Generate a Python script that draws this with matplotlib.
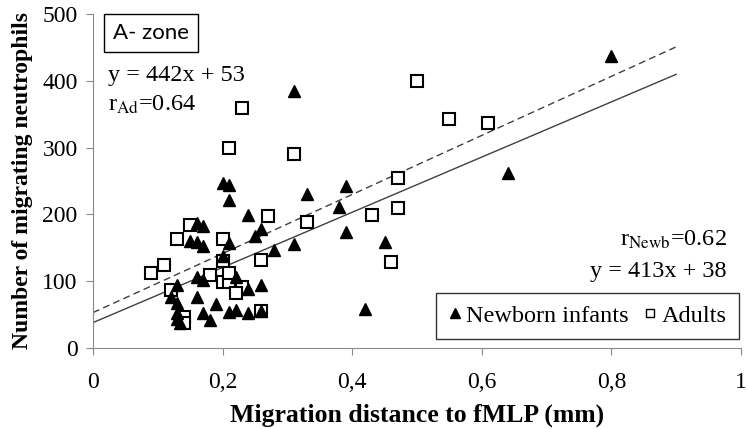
import numpy as np
import matplotlib
matplotlib.use("Agg")
import matplotlib.pyplot as plt
from matplotlib.lines import Line2D

plt.rcParams["font.family"] = "Liberation Serif"
plt.rcParams["mathtext.fontset"] = "stix"

# newborn infants (triangles)
newb_x = [0.80, 0.64, 0.31, 0.39, 0.33, 0.38, 0.24, 0.26, 0.39, 0.25, 0.45, 0.31, 0.28,
          0.26, 0.24, 0.42, 0.24, 0.26, 0.20, 0.21, 0.21, 0.16, 0.17, 0.15, 0.16, 0.17,
          0.21, 0.20, 0.16, 0.17, 0.22, 0.13, 0.12, 0.13, 0.16, 0.19, 0.17, 0.18, 0.21,
          0.22, 0.13, 0.13, 0.135]
newb_y = [437, 262, 384, 243, 230, 211, 199, 178, 173, 167, 158, 155, 146,
          95, 88, 59, 53, 55, 247, 244, 222, 187, 182, 160, 159, 152,
          157, 137, 107, 102, 107, 94, 77, 67, 77, 66, 53, 42, 54,
          57, 52, 44, 37]

# adults (open squares)
ad_x = [0.50, 0.55, 0.61, 0.23, 0.21, 0.31, 0.47, 0.47, 0.43, 0.27, 0.33, 0.26, 0.46,
        0.23, 0.26, 0.15, 0.13, 0.20, 0.11, 0.09, 0.20, 0.18, 0.20, 0.21, 0.21, 0.22,
        0.12, 0.14, 0.14]
ad_y = [400, 343, 337, 359, 300, 291, 255, 210, 199, 198, 189, 131, 128,
        92, 55, 184, 163, 163, 124, 113, 130, 109, 99, 99, 113, 82,
        87, 47, 37]

# regression lines: slope, intercept
fit_newb = [413, 38]
fit_ad = [442, 53]
fit_range = [0, 0.9]

x_ticks = [0, 0.2, 0.4, 0.6, 0.8, 1]
x_tick_labels = ["0", "0,2", "0,4", "0,6", "0,8", "1"]
y_ticks = [0, 100, 200, 300, 400, 500]

fig = plt.figure(figsize=(7.48, 4.29), dpi=100)
ax = fig.add_axes([0.1243, 0.1888, 0.8663, 0.7786])

xs = np.array(fit_range)
ax.plot(xs, fit_newb[0] * xs + fit_newb[1], color="#404040", lw=1.0, zorder=1)
ax.plot(xs, fit_ad[0] * xs + fit_ad[1], color="#404040", lw=1.0, ls=(0, (5, 3)), zorder=1)

ax.plot(newb_x, newb_y, ls="none", marker="^", ms=9, color="black", zorder=3)
ax.plot(ad_x, ad_y, ls="none", marker="s", ms=8, mfc="white", mec="black", mew=1.5, zorder=2)

ax.set_xlim(0, 1)
ax.set_ylim(0, 500)
ax.set_xticks(x_ticks)
ax.set_xticklabels(x_tick_labels)
ax.set_yticks(y_ticks)
ax.tick_params(labelsize=17, color="#888888", length=5, direction="out")
ax.tick_params(axis="x", pad=12)
ax.tick_params(axis="y", pad=6)
for s in ["top", "right"]:
    ax.spines[s].set_visible(False)
for s in ["left", "bottom"]:
    ax.spines[s].set_color("#888888")

ax.set_xlabel("Migration distance to fMLP (mm)", fontsize=18.5, fontweight="bold", labelpad=8)
ax.set_ylabel("Number of migrating neutrophils", fontsize=17, fontweight="bold", labelpad=7)

ax.text(0.089, 0.943, "A- zone", transform=ax.transAxes, ha="center", va="center",
        fontsize=16, family="Lato",
        bbox=dict(boxstyle="square,pad=0.4", fc="white", ec="black", lw=1))

ax.text(0.023, 0.817, "y = 442x + 53", transform=ax.transAxes, fontsize=17.5, va="center")
ax.text(0.023, 0.727, r"r$_{\mathrm{Ad}}$=0.64", transform=ax.transAxes, fontsize=17.5, va="center")
ax.text(0.978, 0.323, r"r$_{\mathrm{Newb}}$=0.62", transform=ax.transAxes, fontsize=17.5,
        va="center", ha="right")
ax.text(0.978, 0.228, "y = 413x + 38", transform=ax.transAxes, fontsize=17.5,
        va="center", ha="right")

handles = [
    Line2D([], [], ls="none", marker="^", ms=7, color="black"),
    Line2D([], [], ls="none", marker="s", ms=6, mfc="white", mec="black", mew=1),
]
leg = ax.legend(handles, ["Newborn infants", "Adults"], ncol=2, loc="lower right",
                bbox_to_anchor=(1.0, 0.02), fontsize=17.5, frameon=True, fancybox=False,
                handlelength=0.6, handletextpad=0.15, columnspacing=0.6, borderpad=0.5,
                borderaxespad=0.1)
leg.get_frame().set_edgecolor("black")
leg.get_frame().set_linewidth(1)

fig.savefig("out.png", dpi=100)
